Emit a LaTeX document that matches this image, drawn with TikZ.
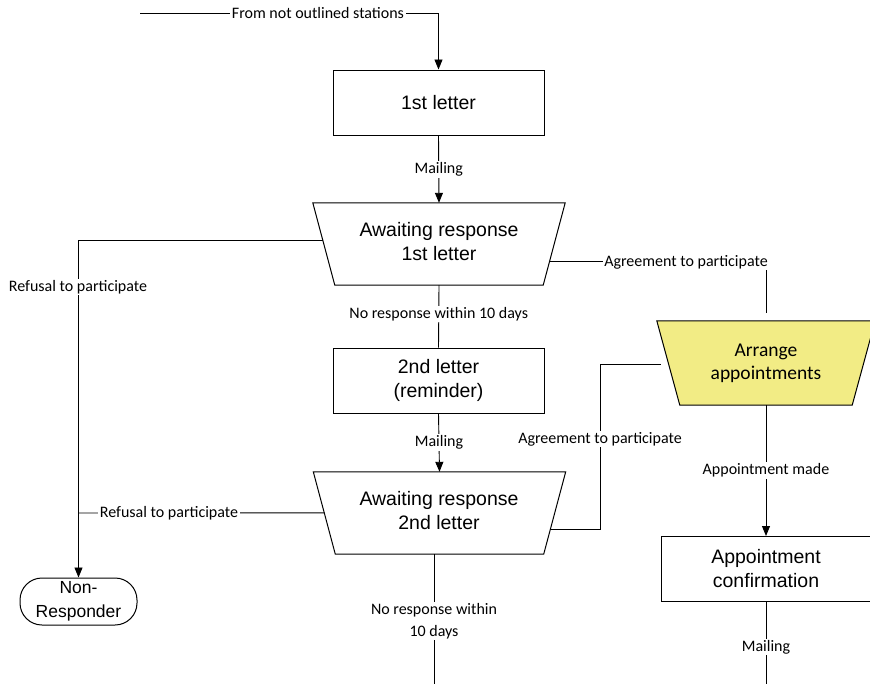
\documentclass[tikz,border=0pt]{standalone}
\usepackage{fontspec}
\setmainfont{Liberation Sans}
\newfontfamily\carlito{Carlito}
\usetikzlibrary{arrows.meta,calc}
\definecolor{apyellow}{RGB}{242,236,133}
\begin{document}
\begin{tikzpicture}[x=1pt,y=-1pt,
  box/.style={draw,line width=1pt,minimum width=211pt,minimum height=65pt,align=center,inner sep=0pt,font=\fontsize{19.5}{24}\selectfont},
  tz/.style={minimum width=252pt,minimum height=82pt,align=center,inner sep=0pt,font=\fontsize{19.5}{24}\selectfont},
  tzline/.style={line width=1pt},
  lbl/.style={fill=white,inner sep=1.5pt,align=center,font=\carlito\fontsize{16}{22}\selectfont},
  conn/.style={line width=0.9pt},
  arr/.style={conn,-{Triangle[length=10pt,width=8pt]}}]
\useasboundingbox (0,0) rectangle (870,683);
\clip (0,0) rectangle (870,683);
\fill[white] (0,0) rectangle (870,683);

% nodes
\node[box] (b1) at (438.5,102.5) {1st letter};
\node[tz] (t1) at (439,244) {};
\draw[tzline] (t1.north west) -- (t1.north east) -- ($(t1.south east)+(-22,0)$) -- ($(t1.south west)+(22,0)$) -- cycle;
\node[align=center,inner sep=0pt,font=\fontsize{19.5}{24}\selectfont] (t1text) at (439,242) {Awaiting response\\1st letter};
\node[box] (b2) at (438.5,380.5) {2nd letter\\(reminder)};
\node[tz] (t2) at (439.5,513) {};
\draw[tzline] (t2.north west) -- (t2.north east) -- ($(t2.south east)+(-22,0)$) -- ($(t2.south west)+(22,0)$) -- cycle;
\node[align=center,inner sep=0pt,font=\fontsize{19.5}{24}\selectfont] (t2text) at (439,511) {Awaiting response\\2nd letter};
\node[minimum width=218pt,minimum height=84pt,inner sep=0pt] (ap) at (766,363) {};
\fill[apyellow] (ap.north west) -- (ap.north east) -- ($(ap.south east)+(-23,0)$) -- ($(ap.south west)+(23,0)$) -- cycle;
\draw[tzline] (ap.north west) -- (ap.north east) -- ($(ap.south east)+(-23,0)$) -- ($(ap.south west)+(23,0)$) -- cycle;
\node[align=center,inner sep=0pt,font=\carlito\fontsize{19.5}{23}\selectfont] (aptext) at (766,363) {Arrange\\appointments};
\node[box,minimum width=210pt] (cf) at (766,569) {Appointment\\confirmation};
\node[draw,line width=1pt,rounded corners=22pt,minimum width=117pt,minimum height=47pt,inner sep=0pt,align=center,font=\fontsize{17.5}{24}\selectfont] (nr) at (78.5,601.5) {Non-\\Responder};

% edge points
\coordinate (start) at (140,13);
\coordinate (t1w) at ($(t1.north west)+(10.2,38)$);
\coordinate (t1e) at ($(t1.north east)+(-15.8,59)$);
\coordinate (t2w) at ($(t2.north west)+(11,41)$);
\coordinate (t2e) at ($(t2.north east)+(-15.6,58)$);
\coordinate (t2b) at ($(t2.south)+(-5.5,0)$);
\coordinate (aptop) at ($(ap.north)+(0,-8)$);
\coordinate (apw) at (661,364);
\coordinate (bend) at (600,364);
\coordinate (join) at (79,513);
\coordinate (endA) at (434,690);
\coordinate (endB) at (766,690);

% connectors
\draw[arr] (start) -| (b1.north);
\node[lbl] (lfrom) at (318,13) {From not outlined stations};
\draw[arr] (b1.south) -- node[lbl]{Mailing} (t1.north);
\draw[arr] (t1w) -| (nr.north);
\node[lbl] (lref1) at (78,287) {Refusal to participate};
\draw[conn] (t1e) -| (aptop);
\node[lbl] (lagr1) at (686,262) {Agreement to participate};
\draw[conn] (t1.south) -- node[lbl,pos=0.46]{No response within 10 days} (b2.north);
\draw[arr] (b2.south) -- node[lbl]{Mailing} (t2.north);
\draw[conn] (t2w) -- (join);
\node[lbl] (lref2) at (169,513) {Refusal to participate};
\draw[conn] (t2e) -| (bend) -- (apw);
\node[lbl] (lagr2) at (600,439) {Agreement to participate};
\draw[arr] (ap.south) -- node[lbl]{Appointment made} (cf.north);
\draw[conn] (t2b) -- (endA);
\node[lbl] (lnr2) at (434,621) {No response within\\10 days};
\draw[conn] (cf.south) -- (endB);
\node[lbl] (lmail3) at (766,647) {Mailing};
\end{tikzpicture}
\end{document}
